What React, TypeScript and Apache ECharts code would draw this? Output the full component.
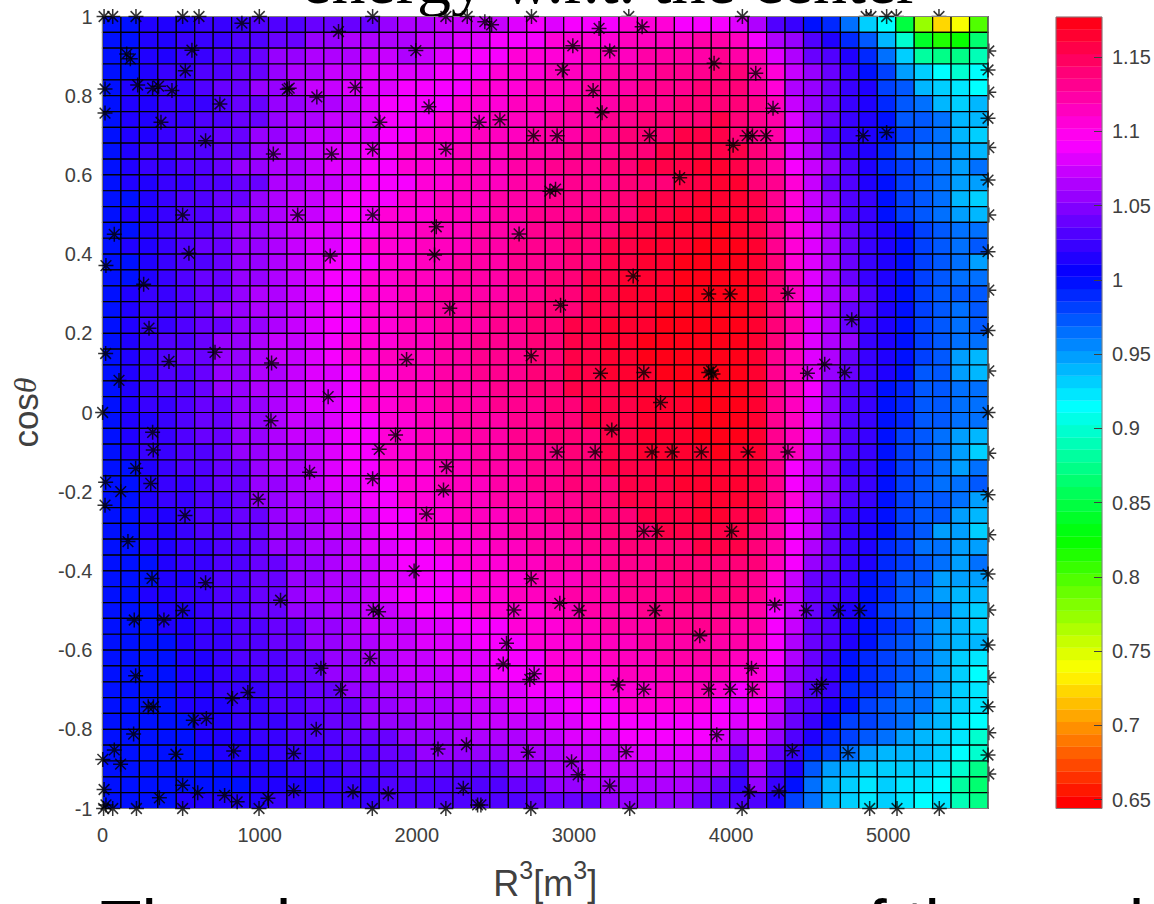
import React, { useEffect, useRef } from "react";
import * as echarts from "echarts";

// Cell values in hundredths (100 = 1.00); 50 rows from cosθ = 1 downward, 48 columns from R³ = 0.
const heatTop = [
[100,100,101,101,101,102,102,102,103,103,103,104,104,104,104,105,106,106,107,107,107,107,108,109,108,109,109,109,110,110,110,109,109,109,108,106,103,102,100,99,96,93,91,85,77,72,74,80],
[100,100,101,101,102,102,102,103,103,104,104,105,105,106,106,106,106,107,107,108,108,109,109,109,110,110,110,110,111,111,111,111,112,112,111,109,106,105,103,101,99,97,94,90,84,81,82,86],
[100,100,101,101,102,102,103,103,104,105,105,106,106,106,107,107,106,107,108,109,109,109,110,110,110,110,111,111,111,112,112,112,112,113,112,111,108,106,104,103,101,99,96,93,88,87,87,89],
[100,100,101,102,102,103,103,104,104,105,106,106,107,107,108,108,108,108,109,109,109,110,110,110,111,111,111,112,112,112,113,113,113,114,114,112,110,107,105,104,102,100,98,95,93,91,90,91],
[100,101,101,102,102,103,104,104,105,105,106,107,107,108,108,108,109,109,109,109,110,110,110,111,111,111,112,112,112,113,113,113,114,114,114,112,110,106,105,104,102,101,98,97,94,93,92,91],
[100,101,101,102,102,102,103,104,104,105,105,106,106,107,108,109,109,109,109,110,110,110,111,111,111,112,112,112,113,113,113,114,114,114,114,113,111,107,105,104,102,101,99,97,96,94,93,94],
[100,101,101,102,102,103,103,104,104,105,106,106,107,107,108,109,109,109,110,110,110,111,111,111,112,112,112,113,113,114,114,114,114,115,114,113,112,108,105,104,102,101,100,97,97,96,94,94],
[100,101,101,102,103,103,104,104,105,105,106,107,107,108,108,109,109,110,110,110,111,111,111,112,112,112,113,113,114,114,114,115,115,115,114,113,112,108,106,103,102,101,100,98,97,96,94,93],
[100,101,102,102,103,103,104,104,105,106,106,107,108,108,109,109,110,110,110,111,111,111,112,112,112,113,113,113,114,114,115,115,115,115,115,114,112,108,106,104,102,101,99,97,96,96,95,94],
[100,101,102,102,103,103,104,105,105,106,106,107,108,108,109,109,110,110,110,111,111,111,112,112,113,113,113,114,114,115,115,115,116,116,115,114,112,109,107,105,103,101,99,98,97,96,95,96],
[100,101,101,102,102,103,103,104,104,106,106,107,107,108,109,109,109,110,110,111,111,111,112,112,112,113,113,113,114,114,114,115,115,116,116,114,113,110,107,104,103,101,100,98,97,96,95,95],
[100,100,101,102,103,103,104,104,105,106,107,107,108,109,109,109,110,110,111,111,111,112,112,112,113,113,113,114,114,115,115,115,116,116,116,115,113,110,107,105,103,102,100,98,97,96,94,93],
[100,101,101,102,103,103,104,105,105,106,107,107,108,109,109,110,110,110,111,111,111,112,112,113,113,113,114,114,114,115,115,116,116,116,116,115,113,110,107,106,103,102,100,98,97,96,95,94],
[100,100,101,102,103,103,104,105,105,106,107,108,108,109,109,110,110,111,111,111,112,112,112,113,113,114,114,114,115,115,116,116,116,117,116,115,113,110,108,106,104,102,101,100,98,97,96,96],
[100,101,101,102,103,104,104,105,105,106,107,108,108,109,110,110,110,111,111,111,112,112,113,113,113,114,114,115,115,116,116,116,117,117,117,116,113,110,108,106,104,102,101,100,98,97,96,97],
[100,100,101,102,103,103,104,105,105,106,107,108,109,109,109,110,110,111,111,112,112,112,113,113,113,114,114,115,115,116,116,117,117,117,117,116,114,110,108,106,104,102,101,100,98,97,96,95],
[100,100,101,102,103,104,104,105,105,106,107,108,109,109,110,110,111,111,111,112,112,112,113,113,114,114,115,115,116,116,116,117,117,117,117,116,114,111,108,106,104,102,101,100,98,97,96,96],
];
const heatMiddle = [
[100,101,102,102,103,104,104,105,106,106,107,108,109,109,110,110,111,111,112,112,112,112,113,113,114,114,115,115,116,116,116,117,117,118,118,116,114,111,108,106,105,103,101,100,98,97,97,97],
[100,101,102,102,103,104,105,105,106,106,107,108,109,109,110,110,111,112,112,112,113,113,113,114,114,114,115,115,116,116,117,117,118,118,118,116,114,111,108,106,104,103,101,100,98,97,96,97],
[100,101,102,102,103,104,104,105,105,106,107,108,109,109,110,110,111,111,112,112,112,113,113,114,114,115,115,116,116,116,117,117,117,118,118,116,114,112,108,106,104,102,101,100,98,97,96,97],
[100,101,102,103,103,104,105,105,106,107,107,108,109,110,110,110,111,111,112,112,113,113,113,114,114,115,115,116,116,117,117,117,118,118,118,116,114,111,108,106,105,102,101,100,98,97,96,96],
[100,101,102,103,104,104,105,105,106,107,107,108,109,110,110,111,111,111,112,112,113,113,113,114,114,115,115,116,116,117,117,117,118,118,117,116,113,111,108,106,104,102,101,100,98,97,95,94],
[100,101,102,103,103,104,105,105,106,106,107,108,108,109,110,110,111,111,112,112,113,113,113,114,114,115,115,116,116,116,117,117,117,117,117,116,113,111,108,105,104,102,101,100,97,97,95,94],
[100,101,102,103,103,104,105,105,106,106,107,108,108,109,110,110,111,111,112,112,112,113,113,114,114,115,115,115,116,116,116,117,117,117,117,116,113,111,109,105,103,102,100,99,97,97,96,96],
[100,101,102,102,103,104,104,105,105,106,107,108,108,109,110,110,111,111,112,112,112,113,113,113,114,114,115,115,115,116,116,116,117,117,117,116,113,111,108,105,103,102,100,99,97,97,96,96],
[100,101,101,102,103,104,104,105,105,106,107,107,108,109,109,110,110,111,111,112,112,112,113,113,114,114,115,115,115,116,116,116,117,117,117,116,113,111,108,105,103,102,100,99,97,97,96,96],
[100,101,102,102,103,104,104,105,105,106,107,107,108,109,109,110,110,111,111,112,112,112,113,113,114,114,114,115,115,116,116,116,117,117,117,116,113,111,108,105,103,102,100,98,97,96,95,94],
[100,101,102,102,103,103,104,105,105,106,106,107,108,109,109,110,110,111,111,111,112,112,113,113,113,114,114,115,115,116,116,116,116,117,116,116,113,111,107,105,103,102,100,98,97,96,95,93],
[100,100,101,102,103,103,104,104,105,106,106,107,108,109,109,110,110,110,111,111,112,112,112,113,113,114,114,115,115,115,116,116,116,116,116,115,113,109,107,105,102,102,100,98,97,96,95,96],
[100,100,101,102,102,103,104,104,105,105,106,107,108,108,109,109,110,110,111,111,111,112,112,113,113,114,114,114,115,115,115,116,116,116,116,115,113,109,107,105,103,102,100,98,97,96,96,97],
[100,100,101,102,102,103,103,104,105,105,106,106,107,108,109,109,110,110,110,111,111,112,112,112,113,113,114,114,115,115,115,115,116,116,116,115,113,110,107,105,103,102,100,98,97,97,96,95],
[100,100,101,101,102,103,103,104,104,105,106,106,107,108,108,109,109,110,110,111,111,111,112,112,113,113,114,114,114,115,115,115,116,116,115,115,112,109,107,104,102,101,100,98,97,97,95,94],
[100,100,101,101,102,103,103,104,104,105,105,106,107,107,108,109,109,110,110,110,111,111,112,112,112,113,113,114,114,114,115,115,115,115,115,114,112,109,107,104,102,101,100,98,97,95,95,93],
[100,100,101,101,102,102,103,103,104,105,105,106,106,107,108,108,109,109,110,110,110,111,111,112,112,112,113,113,114,114,114,114,115,115,115,114,112,109,106,104,102,101,99,98,96,96,95,95],
];
const heatBottom = [
[100,100,100,101,102,102,103,103,104,104,105,105,106,107,107,108,109,109,109,110,110,110,111,111,112,112,112,113,113,113,114,114,114,114,114,114,111,109,105,104,102,101,99,98,97,96,95,96],
[100,100,100,101,101,102,103,103,104,104,105,105,106,106,107,108,108,109,109,109,110,110,110,111,111,111,112,112,113,113,113,114,114,114,114,113,110,107,104,103,102,100,99,97,97,95,95,95],
[100,100,101,101,102,102,103,103,104,104,105,106,106,106,107,108,109,109,109,110,110,110,111,111,111,112,112,112,113,113,113,114,114,114,114,113,110,107,104,103,102,100,99,97,96,95,94,94],
[100,100,100,101,101,102,103,103,104,104,105,105,106,106,107,107,108,109,109,109,110,110,110,110,111,111,112,112,112,113,113,113,113,113,113,112,109,107,104,102,101,100,98,97,96,96,94,93],
[100,100,100,101,101,102,102,103,103,104,104,105,105,106,107,107,107,108,108,109,109,109,110,110,110,111,111,112,112,112,113,113,113,113,112,112,109,107,104,103,101,100,99,98,96,95,94,93],
[100,100,100,100,101,102,102,103,103,104,104,105,105,106,106,107,107,108,108,108,109,109,109,110,110,110,111,111,111,112,112,112,112,112,112,111,109,106,104,103,101,100,98,97,96,95,94,94],
[100,100,100,100,101,101,102,103,103,103,104,104,105,105,106,106,107,107,108,108,108,109,109,109,110,110,110,111,111,111,112,112,112,112,111,110,109,106,104,102,100,99,98,97,96,95,93,92],
[100,100,100,100,101,101,102,102,103,103,104,104,105,105,106,106,107,107,107,108,108,109,109,109,110,110,110,110,111,111,111,111,111,111,110,110,108,105,104,102,100,99,98,97,96,95,93,91],
[100,100,100,100,101,101,102,102,102,103,103,104,104,105,105,106,106,107,107,107,108,108,108,109,109,109,110,110,110,110,111,111,111,110,109,110,108,105,103,102,99,99,98,96,96,95,93,92],
[100,100,100,100,101,101,101,102,102,103,103,104,104,104,105,105,106,106,106,107,107,107,108,108,108,109,109,109,110,110,110,110,110,109,108,109,107,104,103,101,100,98,97,96,96,94,93,92],
[100,100,100,100,100,101,101,102,102,102,103,103,104,104,105,105,105,106,106,106,107,107,107,107,108,108,109,109,109,109,109,109,109,109,108,109,106,104,102,100,98,98,97,96,95,94,92,91],
[100,100,100,100,100,101,101,101,102,102,103,103,103,104,104,104,105,105,105,106,106,106,106,107,107,108,108,108,109,109,109,109,109,108,106,108,105,103,101,99,98,97,96,95,94,93,92,90],
[100,100,100,100,100,100,101,101,101,102,102,102,103,103,103,104,104,105,105,105,105,105,106,106,106,107,107,107,108,108,108,108,108,107,104,107,104,102,99,98,96,95,94,94,94,93,91,90],
[100,100,100,100,100,100,100,101,101,101,102,102,102,103,103,103,104,104,104,104,104,104,105,105,106,106,107,107,107,107,107,107,106,106,103,106,103,101,97,95,94,93,93,93,93,92,90,87],
[100,100,100,100,100,100,100,100,101,101,101,101,102,102,102,103,103,103,103,103,103,103,104,104,105,105,106,106,106,106,106,106,105,104,102,105,102,100,96,94,93,92,93,92,92,91,88,86],
[100,100,100,100,101,101,101,101,101,102,102,102,102,102,102,103,103,103,103,103,103,103,103,104,104,104,104,105,105,105,105,105,104,103,103,103,101,98,96,94,93,92,93,92,91,92,89,87],
];

// Sample points [R³, cosθ] drawn above the surface.
const stars = [
[10,1],[65,1],[213,1],[510,1],[614,1],[887,.983],[998,1],[1502,.962],[1719,1],[569,.915],[154,.905],[177,.893],[527,.863],[16,.817],[224,.827],[319,.819],[357,.824],[442,.813],[747,.779],[1188,.819],[1176,.816],[1364,.797],[1608,.821],[16,.756],[372,.733],[1765,.733],[656,.686],[1087,.653],[1458,.653],[1719,.665],[510,.499],[1242,.499],[1719,.499],[75,.45],[550,.402],[1449,.395],[22,.371],[262,.324],
[2185,1],[2321,1],[2433,.987],[2476,.979],[2730,1],[4072,1],[3160,.97],[3434,.974],[1994,.914],[2993,.926],[3228,.913],[3892,.882],[2927,.865],[4157,.857],[3122,.813],[2077,.772],[3179,.757],[2397,.733],[2529,.739],[2743,.699],[2893,.699],[3481,.699],[4013,.675],[4102,.699],[4136,.699],[4221,.699],[2185,.665],[3673,.593],[2847,.559],[2883,.564],[2124,.469],[2651,.451],[2113,.398],[3377,.345],[3858,.299],[3994,.299],[2210,.263],[2915,.271],
[4267,.768],[4840,.699],[4990,.707],[4362,.301],[4990,1],
[296,.213],[20,.149],[423,.129],[716,.152],[1076,.125],[105,.081],[1436,.04],[1,0],[1072,-.021],[319,-.05],[1865,-.057],[1761,-.093],[323,-.095],[211,-.141],[1318,-.151],[1719,-.167],[20,-.176],[307,-.179],[116,-.2],[16,-.234],[991,-.219],[525,-.26],[162,-.326],[315,-.419],[656,-.43],[1133,-.474],[510,-.5],[1723,-.499],[1757,-.503],[202,-.524],[391,-.524],[1702,-.621],
[1935,.134],[2728,.143],[3169,.099],[3445,.101],[3858,.101],[3875,.105],[3885,.097],[3551,.025],[3241,-.044],[2893,-.1],[3135,-.1],[3497,-.1],[3625,-.1],[3811,-.1],[4108,-.1],[2189,-.137],[2170,-.196],[2062,-.256],[3445,-.3],[3529,-.3],[4004,-.3],[1983,-.4],[2728,-.42],[2910,-.482],[2618,-.499],[3033,-.5],[3514,-.5],
[4768,.234],[4596,.122],[4486,.099],[4723,.101],[4362,-.1],[4278,-.486],[4479,-.5],[4683,-.5],[4819,-.5],
[4130,-.646],[4136,-.699],[4575,-.686],[4545,-.699],[4390,-.854],[4744,-.859],[4305,-.956],[4118,-.957],[4882,-1],[5056,-1],[5325,-1],
[3801,-.564],[2571,-.583],[2550,-.635],[2747,-.66],[2719,-.674],[3281,-.688],[3445,-.699],[3858,-.699],[3996,-.699],[3909,-.814],[2709,-.858],[3332,-.857],[2985,-.882],[3027,-.915],[3228,-.943],[2408,-.991],[2726,-1],[3355,-1],[4070,-1],
[1390,-.646],[211,-.665],[1516,-.701],[925,-.707],[827,-.722],[291,-.743],[324,-.743],[578,-.777],[661,-.773],[1360,-.8],[198,-.812],[75,-.852],[2,-.876],[115,-.888],[467,-.863],[835,-.855],[1217,-.861],[2135,-.85],[2316,-.839],[10,-.952],[510,-.941],[606,-.96],[362,-.973],[777,-.967],[857,-.983],[1053,-.974],[1217,-.955],[1594,-.958],[1818,-.963],[2296,-.949],[2387,-.991],[22,-.991],[65,-1],[7,-1],[216,-1],[510,-1],[996,-1],[1717,-1],[2185,-1],
[5635,.865],[5635,.743],[5635,.587],[5635,.406],[5635,.207],[5635,0],[5635,-.208],[5635,-.408],[5635,-.587],[5635,-.743],[5635,-.865],
];
// Sample points that lie under the surface, so that only their outer half shows at the edge.
const starsBehind = [
[3349,1],[4860,1],[4890,1],[5052,1],[5323,1],
[5640,.913],[5640,.809],[5640,.669],[5640,.499],[5640,.309],[5640,.105],[5640,-.103],[5640,-.309],[5640,-.499],[5640,-.669],[5640,-.809],[5640,-.913],
];

const colorbarTicks = [0.65, 0.7, 0.75, 0.8, 0.85, 0.9, 0.95, 1, 1.05, 1.1, 1.15];
const X_MAX = 5635;
const V_MIN = 0.644;
const V_MAX = 1.177;
const LEVELS = 64;
const TEXT = "#404040";
const FRAME = "#808080";
const STAR_PATH = "path://M7 0L7 14M0 7L14 7M2 2L12 12M2 12L12 2";

function hsv(level: number) {
  const h = (level / LEVELS) * 6;
  const f = h - Math.floor(h);
  const rgb = [
    [1, f, 0],
    [1 - f, 1, 0],
    [0, 1, f],
    [0, 1 - f, 1],
    [f, 0, 1],
    [1, 0, 1 - f],
  ][Math.floor(h) % 6];
  return `rgb(${rgb.map((c) => Math.round(c * 255)).join(",")})`;
}
function colorOf(v: number) {
  const l = Math.min(LEVELS - 1, Math.max(0, Math.floor(((v - V_MIN) / (V_MAX - V_MIN)) * LEVELS + 0.25)));
  return hsv(l);
}

export default function App() {
  const ref = useRef<HTMLDivElement>(null);
  useEffect(() => {
    const chart = echarts.init(ref.current!, undefined, { renderer: "svg" });
    const heatRows = [...heatTop, ...heatMiddle, ...heatBottom];
    const dx = X_MAX / 48;
    const cells: number[][] = [];
    heatRows.forEach((row, j) =>
      row.forEach((v, i) => {
        cells.push([i * dx, (i + 1) * dx, 1 - j * 0.04, 1 - (j + 1) * 0.04, v / 100]);
      })
    );
    const step = (V_MAX - V_MIN) / LEVELS;
    const bands = Array.from({ length: LEVELS }, (_, i) => [0, 1, V_MIN + i * step, V_MIN + (i + 1) * step, i]);

    const rectItem = (stroke: boolean, fillOf: (n: number) => string) => (_: any, api: any) => {
      const p0 = api.coord([api.value(0), api.value(2)]);
      const p1 = api.coord([api.value(1), api.value(3)]);
      return {
        type: "rect",
        shape: { x: p0[0], y: p0[1], width: p1[0] - p0[0], height: p1[1] - p0[1] },
        style: stroke
          ? { fill: fillOf(api.value(4)), stroke: "#000", lineWidth: 1.2 }
          : { fill: fillOf(api.value(4)), stroke: fillOf(api.value(4)), lineWidth: 0.3 },
      };
    };
    const starStyle = { color: "transparent", borderColor: "#000", borderWidth: 1.5 };
    const sup = { fontFamily: "Liberation Sans", fontSize: 25, color: TEXT, verticalAlign: "top", lineHeight: 44 };
    const base = { fontFamily: "Liberation Sans", fontSize: 36, color: TEXT, verticalAlign: "bottom", lineHeight: 44 };
    const labelFont = { fontFamily: "Liberation Sans", fontSize: 20, color: TEXT };
    const bottomText = (text: string, x: number) => ({
      type: "text",
      x,
      y: 890,
      style: { text, fontFamily: "Liberation Sans", fontSize: 68, fill: "#000", verticalAlign: "top", align: "left" },
    });

    chart.setOption({
      animation: false,
      grid: [
        { left: 102.5, top: 16.5, width: 885.5, height: 792, show: true, borderColor: FRAME, borderWidth: 1, z: 2.5, outerBoundsMode: "none" },
        { left: 1056, top: 17, width: 46, height: 791.5, show: true, borderColor: FRAME, borderWidth: 1, z: 2.5, outerBoundsMode: "none" },
      ],
      xAxis: [
        {
          type: "value", gridIndex: 0, min: 0, max: X_MAX, interval: 1000, splitLine: { show: false },
          axisLine: { show: false },
          axisTick: { show: false },
          axisLabel: { ...labelFont, margin: 16, showMaxLabel: false, formatter: (v: number) => String(v) },
          name: "{b|R}{s|3}{b|[m}{s|3}{b|]}",
          nameLocation: "middle",
          nameGap: 49,
          nameTextStyle: { rich: { b: base, s: sup } },
        },
        { type: "value", gridIndex: 1, min: 0, max: 1, show: false },
      ],
      yAxis: [
        {
          type: "value", gridIndex: 0, min: -1, max: 1, interval: 0.2, splitLine: { show: false },
          axisLine: { show: false },
          axisTick: { show: false },
          axisLabel: { ...labelFont, margin: 10 },
          name: "{c|cos}{t|θ}",
          nameLocation: "middle",
          nameRotate: 90,
          nameGap: 60,
          nameTextStyle: {
            rich: {
              c: { fontFamily: "Liberation Sans", fontSize: 35, color: TEXT },
              t: { fontFamily: "Liberation Serif", fontStyle: "italic", fontSize: 32, color: TEXT },
            },
          },
        },
        {
          type: "value", gridIndex: 1, min: V_MIN, max: V_MAX, position: "right", splitLine: { show: false },
          z: 6,
          axisLine: { show: false, onZero: false },
          axisTick: { show: true, inside: true, length: 8, customValues: colorbarTicks, lineStyle: { color: "#404040", width: 1 } },
          axisLabel: { ...labelFont, margin: 10, customValues: colorbarTicks, formatter: (v: number) => String(v) },
        },
      ],
      series: [
        {
          type: "scatter", data: starsBehind, xAxisIndex: 0, yAxisIndex: 0, symbol: STAR_PATH, symbolSize: 15,
          itemStyle: starStyle, clip: false, z: 1, silent: true,
        },
        {
          type: "custom", data: cells, xAxisIndex: 0, yAxisIndex: 0, z: 2, silent: true,
          encode: { x: [0, 1], y: [2, 3] }, clip: false,
          renderItem: rectItem(true, (v) => colorOf(v)),
        },
        {
          type: "scatter", data: stars, xAxisIndex: 0, yAxisIndex: 0, symbol: STAR_PATH, symbolSize: 15,
          itemStyle: starStyle, clip: false, z: 3, silent: true,
        },
        {
          type: "custom", data: bands, xAxisIndex: 1, yAxisIndex: 1, z: 2, silent: true,
          encode: { x: [0, 1], y: [2, 3] },
          renderItem: rectItem(false, (n) => hsv(n)),
        },
      ],
      graphic: [
        {
          type: "text",
          x: 610,
          y: -54,
          style: { text: "energy w.r.t. the center", fontFamily: "Liberation Serif", fontSize: 68, fill: "#000", align: "center", verticalAlign: "top" },
        },
        bottomText("The", 100),
        bottomText("l", 276),
        bottomText("of the", 830),
        bottomText("l", 1129),
      ],
    });
    return () => chart.dispose();
  }, []);
  return (
    <div
      ref={ref}
      style={{ position: "fixed", left: 0, top: 0, width: 1154, height: 904, overflow: "hidden", background: "#fff" }}
    />
  );
}
